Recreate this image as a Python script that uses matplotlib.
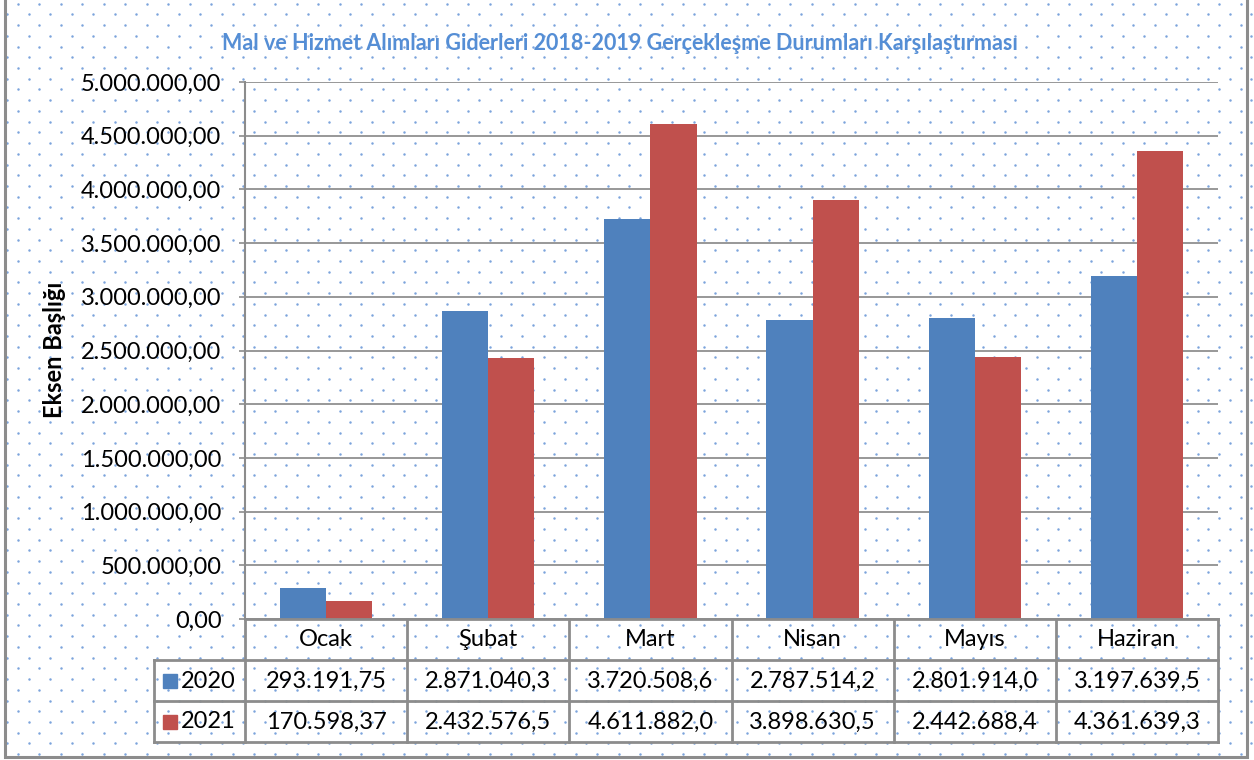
import numpy as np
import matplotlib
matplotlib.use("Agg")
import matplotlib.pyplot as plt
from matplotlib.transforms import blended_transform_factory
from matplotlib.lines import Line2D
from matplotlib.patches import Rectangle

plt.rcParams['font.family'] = ['Lato', 'DejaVu Sans']

# veriler
aylar = ['Ocak', 'Şubat', 'Mart', 'Nisan', 'Mayıs', 'Haziran']
yillar = ['2020', '2021']
deger_2020 = [293191.75, 2871040.3, 3720508.6, 2787514.2, 2801914.0, 3197639.5]
deger_2021 = [170598.37, 2432576.5, 4611882.0, 3898630.5, 2442688.4, 4361639.3]
etiket_2020 = ['293.191,75', '2.871.040,3', '3.720.508,6', '2.787.514,2', '2.801.914,0', '3.197.639,5']
etiket_2021 = ['170.598,37', '2.432.576,5', '4.611.882,0', '3.898.630,5', '2.442.688,4', '4.361.639,3']
y_ticks = [0, 500000, 1000000, 1500000, 2000000, 2500000, 3000000, 3500000, 4000000, 4500000, 5000000]
baslik = 'Mal ve Hizmet Alımları Giderleri 2018-2019 Gerçekleşme Durumları Karşılaştırması'

mavi = '#4F81BD'
kirmizi = '#C0504D'
gri = '#8C8C8C'

W, H = 1254, 760
fig = plt.figure(figsize=(W / 100, H / 100), dpi=100)

# arka plan: noktali desen
bg = fig.add_axes([0, 0, 1, 1], zorder=0)
bg.set_xlim(0, W)
bg.set_ylim(H, 0)
bg.axis('off')
dx, dy = 21.45, 10.72
xs, ys = [], []
for j, yy in enumerate(np.arange(3.7, H, dy)):
    off = 0 if j % 2 == 0 else -dx / 2
    for xx in np.arange(18 + off, W, dx):
        xs.append(xx)
        ys.append(yy)
bg.scatter(xs, ys, s=3.2, color='#6E9AD8', linewidths=0, alpha=0.9)
# dis cerceve
bg.add_patch(Rectangle((5, -5), 1242, 762, fill=False, edgecolor=gri, lw=2.2))

# grafik alani
left, right, top, bottom = 245, 1218, 82, 619
ax = fig.add_axes([left / W, (H - bottom) / H, (right - left) / W, (bottom - top) / H], zorder=2)
ax.set_facecolor('none')

x = np.arange(len(aylar))
w = 0.285
ax.bar(x - w / 2, deger_2020, w, color=mavi, zorder=3)
ax.bar(x + w / 2, deger_2021, w, color=kirmizi, zorder=3)

ax.set_xlim(-0.5, len(aylar) - 0.5)
ax.set_ylim(0, 5000000)
ax.set_yticks(y_ticks)
ax.set_yticklabels([f'{v:,.2f}'.replace(',', 'X').replace('.', ',').replace('X', '.') for v in y_ticks],
                   fontsize=17)
ax.set_xticks([])
ax.yaxis.grid(True, color='#868686', lw=1.2, zorder=1)
ax.tick_params(axis='y', length=4, width=1.2, color=gri, pad=13)
for s in ['top', 'right', 'bottom']:
    ax.spines[s].set_visible(False)
ax.spines['left'].set_color(gri)
ax.spines['left'].set_linewidth(1.5)

fig.text(620 / W, (H - 44) / H, baslik, ha='center', va='center', fontsize=15.5,
         fontweight='bold', color='#558ED5')
fig.text(55 / W, (H - 350) / H, 'Eksen Başlığı', rotation=90, ha='center', va='center',
         fontsize=17, fontweight='bold', color='black')

# veri tablosu
tr = blended_transform_factory(ax.transData, ax.transAxes)
ph = bottom - top
def fy(py):
    return (bottom - py) / ph

row_y = [619, 660, 701, 742]
x_leg = -0.5 - (left - 154) / ((right - left) / len(aylar))
lk = dict(color=gri, lw=2.0, transform=tr, clip_on=False, zorder=4)
# yatay cizgiler
ax.add_line(Line2D([-0.5, 5.5], [fy(row_y[0])] * 2, **lk))
for py in row_y[1:]:
    ax.add_line(Line2D([x_leg, 5.5], [fy(py)] * 2, **lk))
# dikey cizgiler
for xv in np.arange(-0.5, 6.0, 1.0):
    ax.add_line(Line2D([xv, xv], [fy(row_y[0]), fy(row_y[3])], **lk))
ax.add_line(Line2D([x_leg, x_leg], [fy(row_y[1]), fy(row_y[3])], **lk))

for i, ay in enumerate(aylar):
    ax.text(i, fy(640), ay, transform=tr, ha='center', va='center', fontsize=17, clip_on=False)
    ax.text(i, fy(681), etiket_2020[i], transform=tr, ha='center', va='center', fontsize=17, clip_on=False)
    ax.text(i, fy(722), etiket_2021[i], transform=tr, ha='center', va='center', fontsize=17, clip_on=False)

# lejant kutulari
for k, (yil, renk, py) in enumerate(zip(yillar, [mavi, kirmizi], [681, 722])):
    ax.add_patch(Rectangle((x_leg + 0.055, fy(py + 7)), 0.088, fy(py - 7) - fy(py + 7),
                           transform=tr, color=renk, clip_on=False, zorder=4))
    ax.text(x_leg + 0.165, fy(py), yil, transform=tr, ha='left', va='center', fontsize=17, clip_on=False)

fig.savefig('out.png', dpi=100)
